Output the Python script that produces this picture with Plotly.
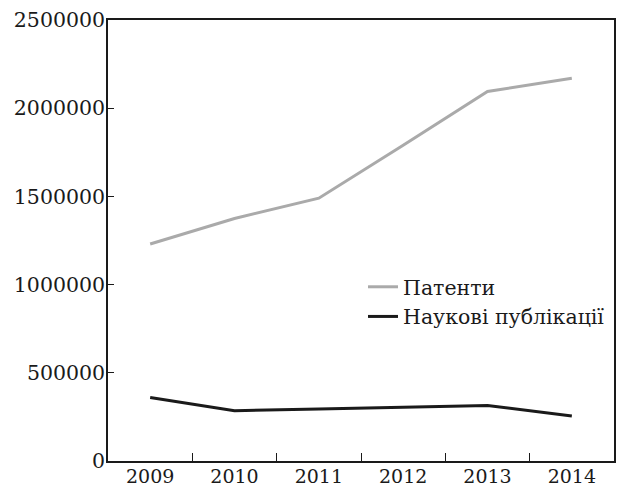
import plotly.graph_objects as go

years = ["2009", "2010", "2011", "2012", "2013", "2014"]
patents = [1230000, 1375000, 1490000, 1790000, 2095000, 2170000]
publications = [360000, 285000, 295000, 305000, 315000, 255000]
y_ticks = [0, 500000, 1000000, 1500000, 2000000, 2500000]

FONT = "DejaVu Serif"

fig = go.Figure()
fig.add_trace(go.Scatter(x=years, y=patents, mode="lines", name="Патенти",
                         line=dict(color="#aaaaaa", width=3)))
fig.add_trace(go.Scatter(x=years, y=publications, mode="lines", name="Наукові публікації",
                         line=dict(color="#1a1a1a", width=3)))

fig.update_layout(
    width=619, height=488,
    margin=dict(l=108, r=5, t=20, b=27),
    paper_bgcolor="white", plot_bgcolor="white",
    font=dict(family=FONT, size=20, color="#1a1a1a"),
    legend=dict(x=0.504, y=0.44, xanchor="left", yanchor="top",
                bgcolor="rgba(0,0,0,0)", font=dict(size=20.5, family=FONT),
                tracegroupgap=0, itemwidth=30),
    showlegend=True,
)
fig.update_xaxes(type="category", range=[-0.5, 5.5], tickson="boundaries",
                 ticks="inside", ticklen=8, tickcolor="#1a1a1a",
                 tickfont=dict(size=19), ticklabelstandoff=-3,
                 showline=True, linecolor="#1a1a1a", linewidth=1.5, mirror=True,
                 showgrid=False, zeroline=False, automargin=False)
fig.update_yaxes(range=[0, 2500000], tickvals=y_ticks, tickformat="d",
                 ticks="inside", ticklen=6, tickcolor="#1a1a1a",
                 tickfont=dict(size=20.5), ticklabelstandoff=-3,
                 showline=True, linecolor="#1a1a1a", linewidth=1.5, mirror=True,
                 showgrid=False, zeroline=False, automargin=False)

fig.write_html("out.html", config={"displayModeBar": False},
               post_script="document.body.style.margin='0';")
